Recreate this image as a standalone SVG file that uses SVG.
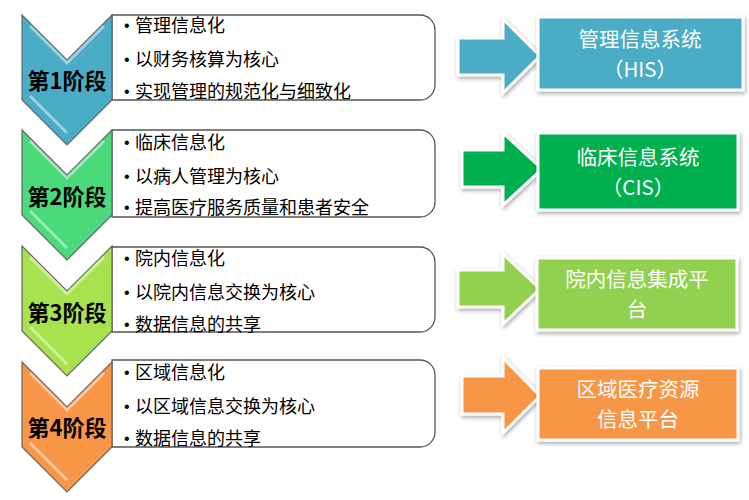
<svg xmlns="http://www.w3.org/2000/svg" width="749" height="500" viewBox="0 0 749 500">
<defs>
<filter id="sh" x="-10%" y="-10%" width="130%" height="140%">
<feDropShadow dx="1" dy="2" stdDeviation="2" flood-color="#000" flood-opacity="0.35"/>
</filter>
</defs>
<style>
.box{fill:#fff;stroke:#555;stroke-width:1.3}
.chev{stroke:#666;stroke-width:1.2}
.hl{fill:none;stroke:#fff;stroke-opacity:0.45;stroke-width:3}
.lbl{font-family:"Noto Sans CJK SC","Liberation Sans",sans-serif;font-weight:bold;font-size:22px;fill:#000;text-anchor:middle}
.item{font-family:"Noto Sans CJK SC","Liberation Sans",sans-serif;font-size:18px;fill:#000}
.bul{font-family:"Liberation Sans",sans-serif;font-size:16px;fill:#000}
.arr{stroke:#fff;stroke-width:3;filter:url(#sh)}
.sys{stroke:#fff;stroke-width:3;filter:url(#sh)}
.st{font-family:"Noto Sans CJK SC","Liberation Sans",sans-serif;fill:#fff;text-anchor:middle;font-size:20.5px}
</style>

<g id="stage1">
<path class="box" d="M112,15 H420 A15,15 0 0 1 435,30 V85 A15,15 0 0 1 420,100 H112 Z"/>
<polygon class="chev" fill="#4BACC6" points="22,15 67,60 112,15 112,100 67,145 22,100"/>
<polyline class="hl" points="30,26 67,63 104,26"/>
<polyline class="hl" points="30,96 67,133"/>
<text class="lbl" x="67" y="89">第1阶段</text>
<text class="bul" x="124" y="31">•</text><text class="item" x="135" y="32">管理信息化</text>
<text class="bul" x="124" y="65">•</text><text class="item" x="135" y="66">以财务核算为核心</text>
<text class="bul" x="124" y="97">•</text><text class="item" x="135" y="98">实现管理的规范化与细致化</text>
</g>

<g id="stage2">
<path class="box" d="M112,130 H420 A15,15 0 0 1 435,145 V202 A15,15 0 0 1 420,217 H112 Z"/>
<polygon class="chev" fill="#4CD97B" points="22,130 67,175 112,130 112,215 67,260 22,215"/>
<polyline class="hl" points="30,141 67,178 104,141"/>
<polyline class="hl" points="30,211 67,248"/>
<text class="lbl" x="67" y="205">第2阶段</text>
<text class="bul" x="124" y="148">•</text><text class="item" x="135" y="149">临床信息化</text>
<text class="bul" x="124" y="182">•</text><text class="item" x="135" y="183">以病人管理为核心</text>
<text class="bul" x="124" y="213">•</text><text class="item" x="135" y="214">提高医疗服务质量和患者安全</text>
</g>

<g id="stage3">
<path class="box" d="M112,247 H420 A15,15 0 0 1 435,262 V317 A15,15 0 0 1 420,332 H112 Z"/>
<polygon class="chev" fill="#A8E24E" points="22,246 67,291 112,246 112,331 67,376 22,331"/>
<polyline class="hl" points="30,257 67,294 104,257"/>
<polyline class="hl" points="30,327 67,364"/>
<text class="lbl" x="67" y="321">第3阶段</text>
<text class="bul" x="124" y="264">•</text><text class="item" x="135" y="265">院内信息化</text>
<text class="bul" x="124" y="298">•</text><text class="item" x="135" y="299">以院内信息交换为核心</text>
<text class="bul" x="124" y="330">•</text><text class="item" x="135" y="331">数据信息的共享</text>
</g>

<g id="stage4">
<path class="box" d="M112,360 H420 A15,15 0 0 1 435,375 V432 A15,15 0 0 1 420,447 H112 Z"/>
<polygon class="chev" fill="#F79646" points="22,362 67,407 112,362 112,447 67,492 22,447"/>
<polyline class="hl" points="30,373 67,410 104,373"/>
<polyline class="hl" points="30,443 67,480"/>
<text class="lbl" x="67" y="436">第4阶段</text>
<text class="bul" x="124" y="378">•</text><text class="item" x="135" y="379">区域信息化</text>
<text class="bul" x="124" y="412">•</text><text class="item" x="135" y="413">以区域信息交换为核心</text>
<text class="bul" x="124" y="444">•</text><text class="item" x="135" y="445">数据信息的共享</text>
</g>

<g id="connectors">
<polygon class="arr" fill="#4BACC6" points="458,38 503,38 503,19 540,56 503,93 503,75 458,75"/>
<polygon class="arr" fill="#00B050" points="462,150 503,150 503,133 542,169 503,205 503,187 462,187"/>
<polygon class="arr" fill="#92D050" points="458,270 503,270 503,254 540,289 503,324 503,307 458,307"/>
<polygon class="arr" fill="#F79646" points="462,376 503,376 503,358 540,396 503,433 503,414 462,414"/>
</g>

<g id="sys1">
<rect class="sys" fill="#4BACC6" x="538" y="17" width="205" height="73"/>
<text class="st"><tspan x="640" y="47">管理信息系统</tspan><tspan x="640" y="77">（HIS）</tspan></text>
</g>
<g id="sys2">
<rect class="sys" fill="#00B050" x="538" y="133" width="200" height="77"/>
<text class="st"><tspan x="638" y="165">临床信息系统</tspan><tspan x="638" y="195">（CIS）</tspan></text>
</g>
<g id="sys3">
<rect class="sys" fill="#92D050" x="537" y="258" width="200" height="72"/>
<text class="st"><tspan x="637" y="287">院内信息集成平</tspan><tspan x="637" y="317">台</tspan></text>
</g>
<g id="sys4">
<rect class="sys" fill="#F79646" x="538" y="368" width="200" height="72"/>
<text class="st"><tspan x="638" y="397">区域医疗资源</tspan><tspan x="638" y="427">信息平台</tspan></text>
</g>
</svg>
